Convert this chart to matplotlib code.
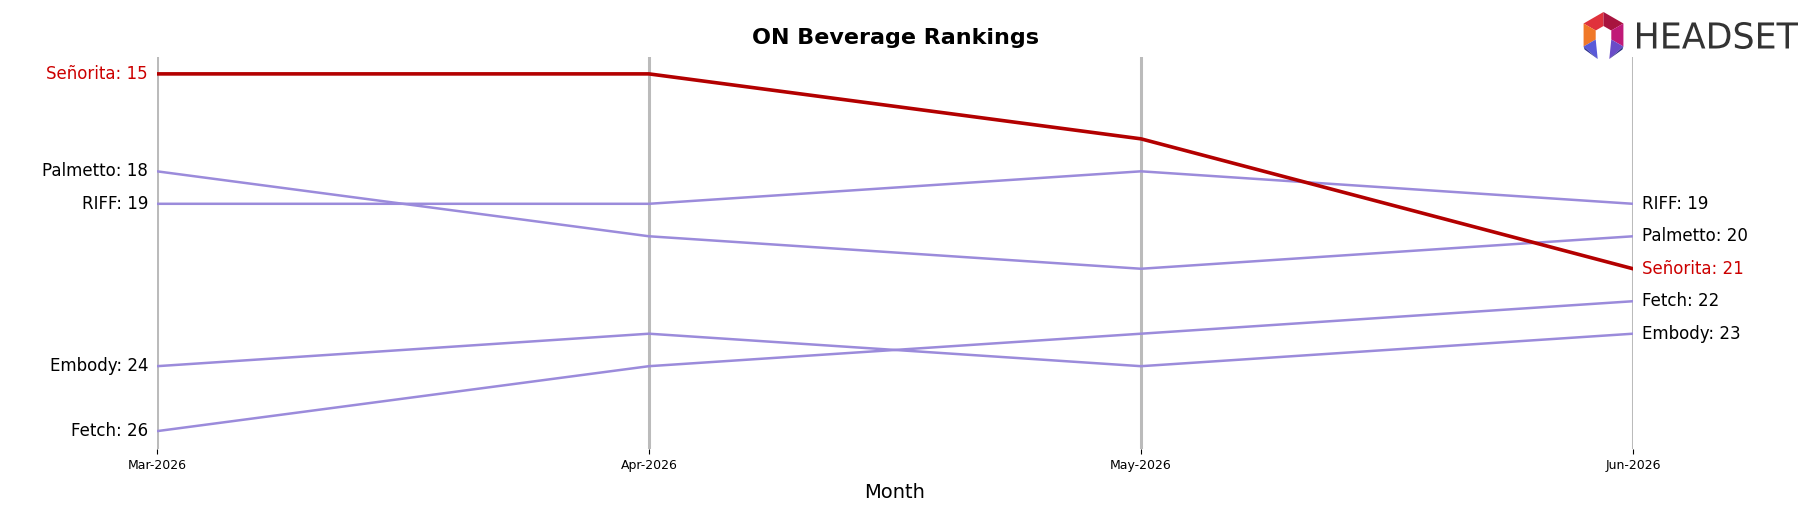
import numpy as np
import matplotlib.pyplot as plt
from matplotlib.patches import Polygon, PathPatch
from matplotlib.textpath import TextPath
from matplotlib.font_manager import FontProperties
from matplotlib.transforms import Affine2D

months = ['Mar-2026', 'Apr-2026', 'May-2026', 'Jun-2026']
senorita = [15, 15, 17, 21]
palmetto = [18, 20, 21, 20]
riff = [19, 19, 18, 19]
embody = [24, 23, 24, 23]
fetch = [26, 24, 23, 22]

brands = ['Señorita', 'Palmetto', 'RIFF', 'Embody', 'Fetch']
ranks = [senorita, palmetto, riff, embody, fetch]
highlight = 'Señorita'

RED = '#b30000'
PURPLE = '#9b8bdb'

fig = plt.figure(figsize=(18.17, 5.07), dpi=100)
ax = fig.add_axes([157 / 1817, 58 / 507, 1476 / 1817, 392 / 507])
x = np.arange(len(months))

for xi in x:
    ax.axvline(xi, color='#bbbbbb', lw=2.2, zorder=1)

for name, r in zip(brands, ranks):
    if name == highlight:
        ax.plot(x, r, color=RED, lw=2.6, zorder=4)
    else:
        ax.plot(x, r, color=PURPLE, lw=1.8, zorder=3)
    col = '#cc0000' if name == highlight else 'black'
    ax.annotate(f'{name}: {r[0]}', (x[0], r[0]), xytext=(-9, 0), textcoords='offset pixels',
                ha='right', va='center', fontsize=12, color=col)
    ax.annotate(f'{name}: {r[-1]}', (x[-1], r[-1]), xytext=(9, 0), textcoords='offset pixels',
                ha='left', va='center', fontsize=12, color=col)

ax.set_xlim(0, 3)
ax.set_ylim(26.55, 14.48)
ax.set_xticks(x)
ax.set_xticklabels(months, fontsize=9)
ax.set_yticks([])
for s in ax.spines.values():
    s.set_visible(False)
ax.set_xlabel('Month', fontsize=14, labelpad=8)
ax.set_title('ON Beverage Rankings', fontsize=16, fontweight='bold', pad=9)

# headset logo, drawn in pixel coordinates
lg = fig.add_axes([1570 / 1817, 1 - 66 / 507, 240 / 1817, 60 / 507])
lg.set_xlim(1570, 1810)
lg.set_ylim(66, 6)
lg.axis('off')
cx, cy, R, r0 = 1603.5, 35, 23, 9
ang = np.radians([90, 30, -30, -90, -150, 150])
outer = [(cx + R * np.cos(a), cy - R * np.sin(a)) for a in ang]
inner = [(cx + r0 * np.cos(a), cy - r0 * np.sin(a)) for a in ang]
segs = [(5, 0, '#e0323c'), (0, 1, '#a8143f'), (1, 2, '#c01a78'), (4, 5, '#f07828')]
for i, j, c in segs:
    lg.add_patch(Polygon([outer[i], outer[j], inner[j], inner[i]], color=c, lw=0))
lg.add_patch(Polygon([outer[4], inner[4], (inner[4][0] + 2, cy + 24)], color='#5a5ad8', lw=0))
lg.add_patch(Polygon([outer[4], (inner[4][0] + 2, cy + 24), (outer[4][0] + 1, outer[4][1] + 3)], color='#2c3090', lw=0))
lg.add_patch(Polygon([outer[2], inner[2], (inner[2][0] - 2, cy + 24)], color='#6a4cc8', lw=0))
lg.add_patch(Polygon([outer[2], (inner[2][0] - 2, cy + 24), (outer[2][0] - 1, outer[2][1] + 3)], color='#262a80', lw=0))

tp = TextPath((0, 0), 'HEADSET', size=1, prop=FontProperties(family='DejaVu Sans'))
ext = tp.get_extents()
sx = (1798 - 1637) / ext.width
sy = (49 - 22) / ext.height
tr = Affine2D().translate(-ext.x0, -ext.y0).scale(sx, -sy).translate(1637, 49)
lg.add_patch(PathPatch(tr.transform_path(tp), color='#333333', lw=0))

fig.savefig('out.png', dpi=100)
